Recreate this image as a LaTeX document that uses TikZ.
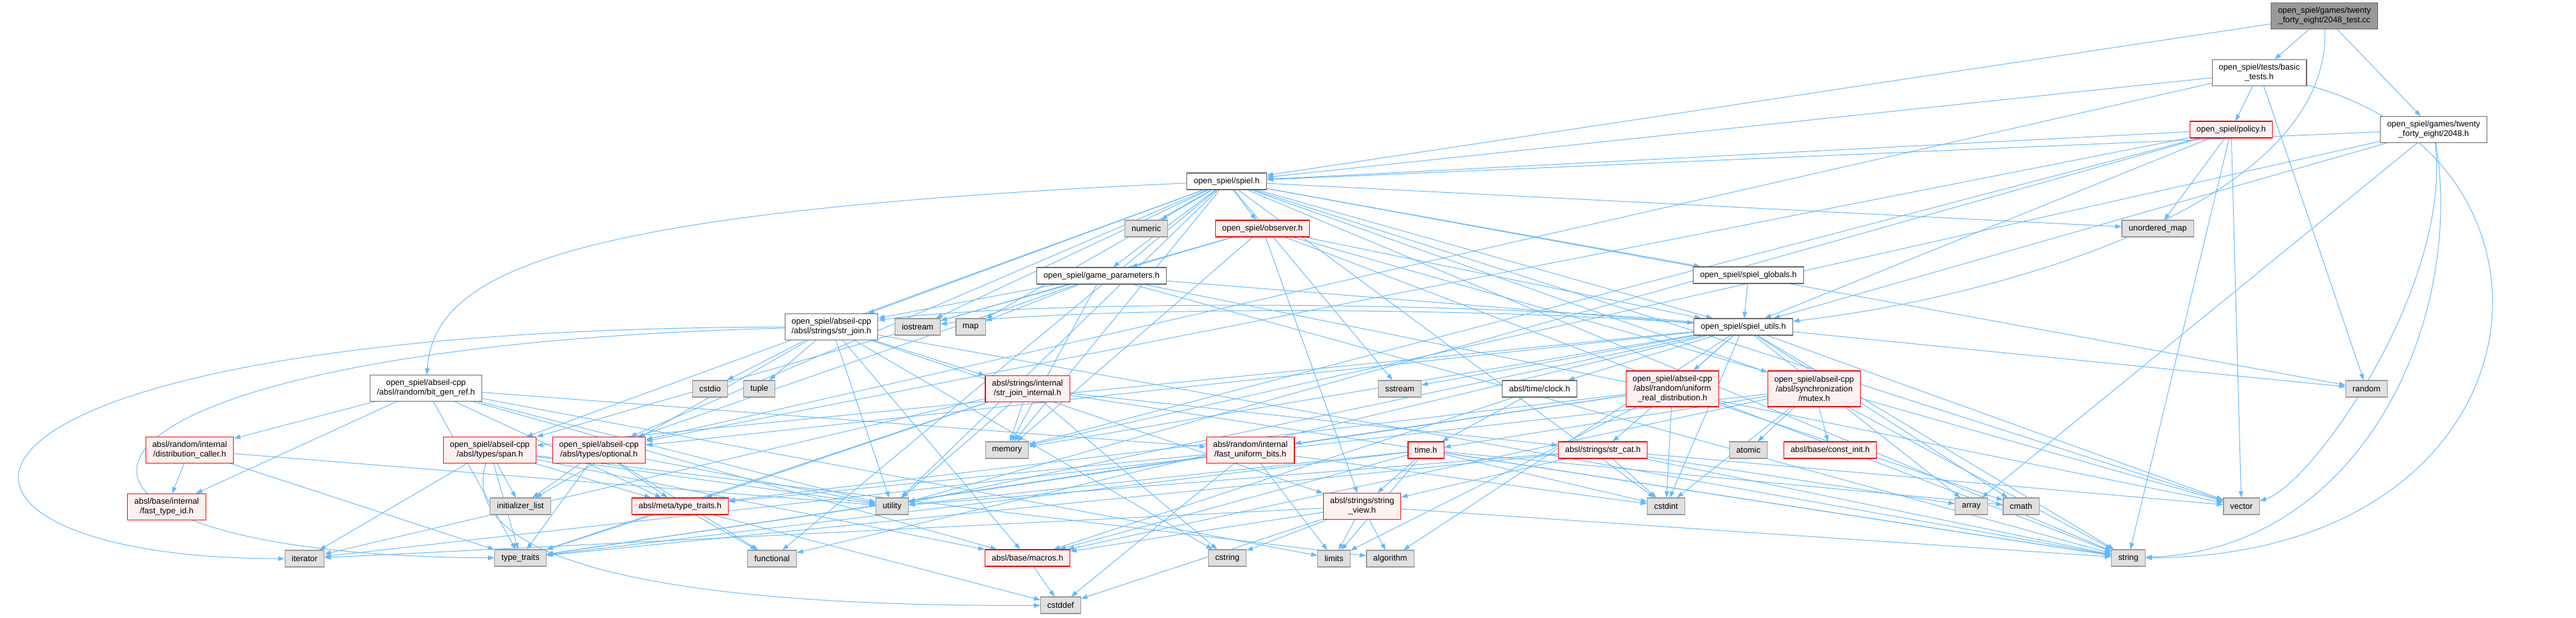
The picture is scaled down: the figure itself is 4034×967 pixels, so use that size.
\documentclass[tikz,border=0pt]{standalone}
\usepackage{fontspec}
\setmainfont{Liberation Sans}
\usepackage{xcolor}
\usepackage{tikz}
\usetikzlibrary{arrows.meta,backgrounds}
\definecolor{edgecolor}{HTML}{63B8FF}
\definecolor{boxline}{HTML}{666666}
\definecolor{sysfill}{HTML}{E0E0E0}
\definecolor{sysline}{HTML}{999999}
\definecolor{truncfill}{HTML}{FFF0F0}
\definecolor{truncline}{HTML}{FF0000}
\definecolor{rootfill}{HTML}{999999}

\begin{document}
\begin{tikzpicture}[
        x=1pt, y=-1pt,
        file/.style={rectangle, draw=boxline, line width=1.1pt, fill=white, inner xsep=10.5pt, inner ysep=2pt, minimum height=26pt, align=center, font=\fontsize{12.9}{15}\selectfont},
        sys/.style={file, draw=sysline, fill=sysfill},
        trunc/.style={file, draw=truncline, fill=truncfill},
        root/.style={file, fill=rootfill},
        two/.style={minimum height=41pt},
        three/.style={minimum height=56pt},
        dep/.style={-{Triangle[length=10pt, width=7pt]}, draw=edgecolor, line width=1pt}
    ]
        \useasboundingbox (0,0) rectangle (4034,967);

        \node[root, two] (test) at (3640,25) {open\_spiel/games/twenty\\\_forty\_eight/2048\_test.cc};
        \node[file, two] (basic) at (3538,114) {open\_spiel/tests/basic\\\_tests.h};
        \node[trunc] (policy) at (3494,203) {open\_spiel/policy.h};
        \node[file, two] (game) at (3811,203) {open\_spiel/games/twenty\\\_forty\_eight/2048.h};
        \node[file] (spiel) at (1921,284) {open\_spiel/spiel.h};
        \node[sys] (numeric) at (1795,358) {numeric};
        \node[trunc] (observer) at (1977,358) {open\_spiel/observer.h};
        \node[sys] (umap) at (3379,358) {unordered\_map};
        \node[file] (params) at (1725,432) {open\_spiel/game\_parameters.h};
        \node[file] (globals) at (2738,431) {open\_spiel/spiel\_globals.h};
        \node[file] (utils) at (2730,512) {open\_spiel/spiel\_utils.h};
        \node[file, two] (strjoin) at (1302,512) {open\_spiel/abseil-cpp\\/absl/strings/str\_join.h};
        \node[sys] (iostream) at (1437,512) {iostream};
        \node[sys] (map) at (1520,512) {map};
        \node[file, two] (bitgen) at (667,608) {open\_spiel/abseil-cpp\\/absl/random/bit\_gen\_ref.h};
        \node[sys] (cstdio) at (1112,609) {cstdio};
        \node[sys] (tuple) at (1189,609) {tuple};
        \node[trunc, two] (joininternal) at (1609,609) {absl/strings/internal\\/str\_join\_internal.h};
        \node[sys] (sstream) at (2192,609) {sstream};
        \node[file] (clock) at (2411,609) {absl/time/clock.h};
        \node[trunc, three] (realdist) at (2619,609) {open\_spiel/abseil-cpp\\/absl/random/uniform\\\_real\_distribution.h};
        \node[trunc, three] (mutex) at (2841,609) {open\_spiel/abseil-cpp\\/absl/synchronization\\/mutex.h};
        \node[sys] (random) at (3706,609) {random};
        \node[trunc, two] (caller) at (297,705) {absl/random/internal\\/distribution\_caller.h};
        \node[trunc, two] (span) at (767,705) {open\_spiel/abseil-cpp\\/absl/types/span.h};
        \node[trunc, two] (optional) at (938,705) {open\_spiel/abseil-cpp\\/absl/types/optional.h};
        \node[sys] (memory) at (1577,705) {memory};
        \node[trunc, two] (uniformbits) at (1958,705) {absl/random/internal\\/fast\_uniform\_bits.h};
        \node[trunc] (timeh) at (2233,705) {time.h};
        \node[trunc] (strcat) at (2510,705) {absl/strings/str\_cat.h};
        \node[sys] (atomic) at (2738,705) {atomic};
        \node[trunc] (constinit) at (2866,705) {absl/base/const\_init.h};
        \node[trunc, two] (typeid) at (261,794) {absl/base/internal\\/fast\_type\_id.h};
        \node[sys] (initlist) at (815,793) {initializer\_list};
        \node[trunc] (metatraits) at (1065,793) {absl/meta/type\_traits.h};
        \node[sys] (utility) at (1397,793) {utility};
        \node[trunc, two] (strview) at (2133,793) {absl/strings/string\\\_view.h};
        \node[sys] (cstdint) at (2609,793) {cstdint};
        \node[sys] (array) at (3087,793) {array};
        \node[sys] (cmath) at (3165,793) {cmath};
        \node[sys] (vector) at (3510,793) {vector};
        \node[sys] (iterator) at (477,875) {iterator};
        \node[sys] (typetraits) at (815,874) {type\_traits};
        \node[sys] (functional) at (1209,875) {functional};
        \node[trunc] (macros) at (1609,874) {absl/base/macros.h};
        \node[sys] (cstring) at (1922,874) {cstring};
        \node[sys] (limits) at (2089,875) {limits};
        \node[sys] (algorithm) at (2177,875) {algorithm};
        \node[sys] (string) at (3333,874) {string};
        \node[sys] (cstddef) at (1661,948) {cstddef};

        \begin{scope}[on background layer]
        \foreach \dst in {basic,game,spiel} \draw[dep] (test) -- (\dst);
        \draw[dep] (test) .. controls (3650,330) and (3100,470) .. (utils);
        \foreach \dst in {policy,spiel,optional,random} \draw[dep] (basic) -- (\dst);
        \draw[dep] (basic) .. controls (4060,250) and (4000,870) .. (string);
        \foreach \dst in {spiel,memory,umap,utils,optional,utility,vector,string} \draw[dep] (policy) -- (\dst);
        \foreach \dst in {spiel,utils,array,memory} \draw[dep] (game) -- (\dst);
        \draw[dep] (game) .. controls (3860,500) and (3700,860) .. (string);
        \draw[dep] (game) .. controls (3840,450) and (3620,760) .. (vector);
        \foreach \dst in {numeric,observer,params,globals,utils,strjoin,iostream,map,span,optional,mutex,functional,memory,random,sstream,string,umap,utility,vector,cstdint} \draw[dep] (spiel) -- (\dst);
        \draw[dep] (spiel) .. controls (900,330) and (680,420) .. (bitgen);
        \foreach \dst in {params,utils,span,strview,memory,string,vector} \draw[dep] (observer) -- (\dst);
        \foreach \dst in {strjoin,iostream,map,memory,utils,optional,string,vector} \draw[dep] (params) -- (\dst);
        \draw[dep] (globals) -- (utils);
        \foreach \dst in {realdist,strcat,clock,optional,span,sstream,cstdint,array,cmath,vector,string,random,algorithm,memory,functional,utility} \draw[dep] (utils) -- (\dst);
        \draw[dep] (utils) .. controls (2300,470) and (1600,470) .. (strjoin);
        \draw[dep] (utils) .. controls (2300,480) and (1700,480) .. (iostream);
        \foreach \dst in {joininternal,cstdio,tuple,utility,macros,strview,string,cstring,initlist} \draw[dep] (strjoin) -- (\dst);
        \draw[dep] (strjoin) .. controls (-200,515) and (-200,875) .. (iterator);
        \draw[dep] (strjoin) .. controls (0,545) and (-60,870) .. (typetraits);
        \foreach \dst in {memory,utility,metatraits,iterator,typetraits,cstring,string,strcat} \draw[dep] (joininternal) -- (\dst);
        \foreach \dst in {caller,typeid,typetraits,utility,uniformbits,metatraits,macros,limits} \draw[dep] (bitgen) -- (\dst);
        \foreach \dst in {typeid,typetraits,utility} \draw[dep] (caller) -- (\dst);
        \foreach \dst in {initlist,typetraits,iterator,metatraits,utility,macros,algorithm} \draw[dep] (span) -- (\dst);
        \draw[dep] (span) .. controls (700,930) and (1300,950) .. (cstddef);
        \foreach \dst in {initlist,typetraits,metatraits,utility,functional} \draw[dep] (optional) -- (\dst);
        \foreach \dst in {functional,cstddef,typetraits} \draw[dep] (metatraits) -- (\dst);
        \foreach \dst in {cstddef,cstdint,limits,typetraits,metatraits} \draw[dep] (uniformbits) -- (\dst);
        \draw[dep] (macros) -- (cstddef);
        \foreach \dst in {cstdint,cmath,metatraits,uniformbits,typetraits,limits} \draw[dep] (realdist) -- (\dst);
        \foreach \dst in {atomic,constinit,cstdint,string,timeh,macros,iterator} \draw[dep] (mutex) -- (\dst);
        \foreach \dst in {timeh,macros} \draw[dep] (clock) -- (\dst);
        \foreach \dst in {strview,limits,macros,typetraits,utility,cmath,cstdint,string} \draw[dep] (timeh) -- (\dst);
        \foreach \dst in {strview,utility,typetraits,cstdint,string,array,vector} \draw[dep] (strcat) -- (\dst);
        \foreach \dst in {limits,algorithm,iterator,macros,cstddef,cstring,string} \draw[dep] (strview) -- (\dst);
        \end{scope}
    \end{tikzpicture}
\end{document}
